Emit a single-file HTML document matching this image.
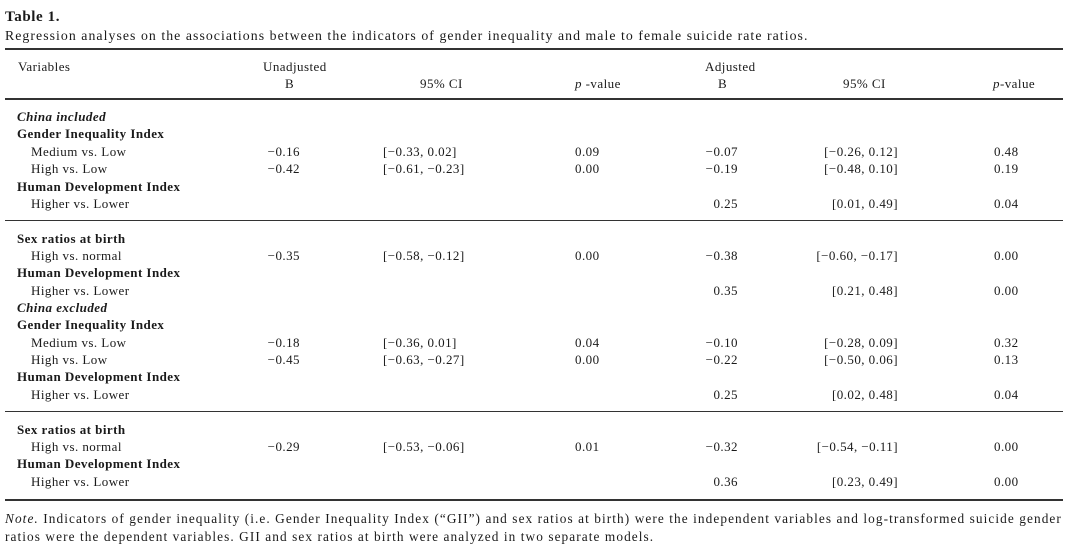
<!DOCTYPE html>
<html><head><meta charset="utf-8"><style>
body{margin:0;width:1080px;height:552px;background:#fff;position:relative;overflow:hidden;font-family:"Liberation Serif",serif;color:#1a1a1a;font-size:13px;letter-spacing:0.45px}
.t{position:absolute;white-space:nowrap;line-height:16px}
.b{font-weight:bold}
.i{font-style:italic}
.hl{position:absolute;left:5px;width:1058px;background:#333}
</style></head><body>
<div class="t b" style="left:5px;top:9px;font-size:15px;letter-spacing:0.6px">Table 1.</div>
<div class="t" style="left:5px;top:28px;font-size:13.8px;letter-spacing:1.05px">Regression analyses on the associations between the indicators of gender inequality and male to female suicide rate ratios.</div>
<div class="hl" style="top:48px;height:1.5px"></div>
<div class="hl" style="top:98px;height:1.5px"></div>
<div class="hl" style="top:220px;height:1px"></div>
<div class="hl" style="top:411px;height:1px"></div>
<div class="hl" style="top:499px;height:1.5px"></div>

<div class="t" style="left:18px;top:59px">Variables</div>
<div class="t" style="left:263px;top:59px">Unadjusted</div>
<div class="t" style="left:285px;top:76px">B</div>
<div class="t" style="left:420px;top:76px">95% CI</div>
<div class="t" style="left:575px;top:76px"><i>p</i> -value</div>
<div class="t" style="left:705px;top:59px">Adjusted</div>
<div class="t" style="left:718px;top:76px">B</div>
<div class="t" style="left:843px;top:76px">95% CI</div>
<div class="t" style="left:993px;top:76px"><i>p</i>-value</div>

<div id="rows"></div>

<div class="t" style="left:5px;top:511px;font-size:13.3px;letter-spacing:1.08px"><i>Note.</i> Indicators of gender inequality (i.e. Gender Inequality Index (“GII”) and sex ratios at birth) were the independent variables and log-transformed suicide gender</div>
<div class="t" style="left:5px;top:529px;font-size:13.3px;letter-spacing:1.08px">ratios were the dependent variables. GII and sex ratios at birth were analyzed in two separate models.</div>

<script>
const rowTops = [109,126,144,161,179,196,231,248,265,283,300,317,335,352,369,387,422,439,456,474];
const labels = ["China included","Gender Inequality Index","Medium vs. Low","High vs. Low","Human Development Index","Higher vs. Lower","Sex ratios at birth","High vs. normal","Human Development Index","Higher vs. Lower","China excluded","Gender Inequality Index","Medium vs. Low","High vs. Low","Human Development Index","Higher vs. Lower","Sex ratios at birth","High vs. normal","Human Development Index","Higher vs. Lower"];
const kinds = ["bi","b","n","n","b","n","b","n","b","n","bi","b","n","n","b","n","b","n","b","n"];
const uB = ["","","−0.16","−0.42","","","","−0.35","","","","","−0.18","−0.45","","","","−0.29","",""];
const uCI = ["","","[−0.33, 0.02]","[−0.61, −0.23]","","","","[−0.58, −0.12]","","","","","[−0.36, 0.01]","[−0.63, −0.27]","","","","[−0.53, −0.06]","",""];
const uP = ["","","0.09","0.00","","","","0.00","","","","","0.04","0.00","","","","0.01","",""];
const aB = ["","","−0.07","−0.19","","0.25","","−0.38","","0.35","","","−0.10","−0.22","","0.25","","−0.32","","0.36"];
const aCI = ["","","[−0.26, 0.12]","[−0.48, 0.10]","","[0.01, 0.49]","","[−0.60, −0.17]","","[0.21, 0.48]","","","[−0.28, 0.09]","[−0.50, 0.06]","","[0.02, 0.48]","","[−0.54, −0.11]","","[0.23, 0.49]"];
const aP = ["","","0.48","0.19","","0.04","","0.00","","0.00","","","0.32","0.13","","0.04","","0.00","","0.00"];
const host = document.getElementById('rows');
function cell(text, left, right, top, cls, name){
  if(!text) return;
  const d=document.createElement('div');
  d.className='t '+cls;
  d.textContent=text;
  d.style.top=top+'px';
  if(right!==null){d.style.right=(1080-right)+'px';} else d.style.left=left+'px';
  
  
  host.appendChild(d);
}
labels.forEach((lab,i)=>{
  const top=rowTops[i];
  const k=kinds[i];
  const cls = k==='bi' ? 'b i' : (k==='b' ? 'b' : '');
  cell(lab, k==='n'?31:17, null, top, cls, 'row-label');
  cell(uB[i], 0, 300, top, '', 'unadjusted-b');
  cell(uCI[i], 383, null, top, '', 'unadjusted-ci');
  cell(uP[i], 575, null, top, '', 'unadjusted-p');
  cell(aB[i], 0, 738, top, '', 'adjusted-b');
  cell(aCI[i], 0, 898, top, '', 'adjusted-ci');
  cell(aP[i], 994, null, top, '', 'adjusted-p');
});
</script>
</body></html>
